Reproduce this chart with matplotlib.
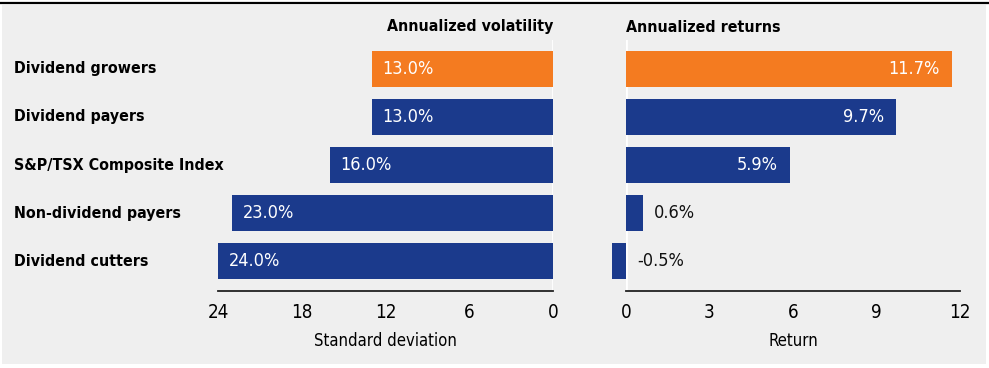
import matplotlib
matplotlib.use("Agg")
import matplotlib.pyplot as plt
from matplotlib.patches import Rectangle
from matplotlib.lines import Line2D
from matplotlib.transforms import blended_transform_factory

categories = ["Dividend growers", "Dividend payers", "S&P/TSX Composite Index",
              "Non-dividend payers", "Dividend cutters"]
volatility = [13.0, 13.0, 16.0, 23.0, 24.0]
returns = [11.7, 9.7, 5.9, 0.6, -0.5]
vol_ticks = [24, 18, 12, 6, 0]
ret_ticks = [0, 3, 6, 9, 12]
highlight = [True, False, False, False, False]

ORANGE = "#F47B20"
NAVY = "#1B3A8C"
BG = "#EFEFEF"

FONT = "DejaVu Sans"
STRETCH = "condensed"
plt.rcParams["font.family"] = [FONT]
plt.rcParams["font.stretch"] = STRETCH

FS_BOLD = 11.4
FS_VAL = 13
FS_LABEL = 12

W, H = 989, 368
fig = plt.figure(figsize=(W / 100, H / 100), dpi=100, facecolor="white")
fig.patches.append(Rectangle((2 / W, 4 / H), (986 - 2) / W, (364 - 5) / H,
                             transform=fig.transFigure, facecolor=BG,
                             edgecolor="none", zorder=-10))
fig.lines.append(Line2D([0, 1], [1 - 3.3 / H, 1 - 3.3 / H], transform=fig.transFigure,
                        color="black", lw=1.6, zorder=-5))

bottom = (H - 291) / H
height = (291 - 40) / H
ax1 = fig.add_axes([218 / W, bottom, 335 / W, height])
ax2 = fig.add_axes([626 / W, bottom, 334 / W, height])

colors = [ORANGE if h else NAVY for h in highlight]
y = list(range(len(categories)))

for ax in (ax1, ax2):
    ax.set_facecolor("none")
    ax.set_zorder(2)
    for s in ("top", "left", "right"):
        ax.spines[s].set_visible(False)
    ax.spines["bottom"].set_color("#222222")
    ax.spines["bottom"].set_linewidth(1.3)
    ax.set_yticks([])
    ax.tick_params(axis="x", length=0, pad=9, labelsize=13.5, colors="black")
    ax.set_ylim(4.62, -0.6)
    ax.axvline(0, color="white", lw=2, zorder=1)

bars1 = ax1.barh(y, volatility, height=0.75, color=colors, zorder=2)
ax1.set_xlim(24, 0)
ax1.set_xticks(vol_ticks)
ax1.set_xticklabels([str(t) for t in vol_ticks])
ax1.set_xlabel("Standard deviation", fontsize=FS_LABEL, labelpad=7)

bars2 = ax2.barh(y, returns, height=0.75, color=colors, zorder=2, clip_on=False)
ax2.set_xlim(0, 12)
ax2.set_xticks(ret_ticks)
ax2.set_xticklabels([str(t) for t in ret_ticks])
ax2.set_xlabel("Return", fontsize=FS_LABEL, labelpad=7)

pad_pt = 11 * 72 / 100
for i, v in enumerate(volatility):
    ax1.annotate(f"{v:.1f}%", xy=(v, i), xytext=(pad_pt, 0), textcoords="offset points",
                 ha="left", va="center", color="white", fontsize=FS_VAL)

for i, v in enumerate(returns):
    if v >= 3:
        ax2.annotate(f"{v:.1f}%", xy=(v, i), xytext=(-12 * 72 / 100, 0), textcoords="offset points",
                     ha="right", va="center", color="white", fontsize=FS_VAL)
    else:
        ax2.annotate(f"{v:.1f}%", xy=(max(v, 0), i), xytext=(pad_pt, 0), textcoords="offset points",
                     ha="left", va="center", color="#111111", fontsize=FS_VAL)

tr = blended_transform_factory(fig.transFigure, ax1.transData)
for i, c in enumerate(categories):
    ax1.text(14 / W, i, c, transform=tr, ha="left", va="center",
             fontsize=FS_BOLD, fontweight="bold", color="black")

fig.text(553 / W, 1 - 27 / H, "Annualized volatility", ha="right", va="center",
         fontsize=FS_BOLD, fontweight="bold")
fig.text(626 / W, 1 - 27 / H, "Annualized returns", ha="left", va="center",
         fontsize=FS_BOLD, fontweight="bold")

fig.savefig("out.png", dpi=100, facecolor="white")
